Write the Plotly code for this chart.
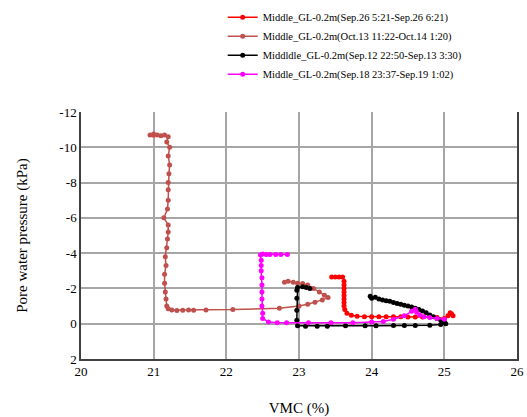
import plotly.graph_objects as go

# ---- data ----
names = [
    "Middle_GL-0.2m(Sep.26 5:21-Sep.26 6:21)",
    "Middle_GL-0.2m(Oct.13 11:22-Oct.14 1:20)",
    "Middldle_GL-0.2m(Sep.12 22:50-Sep.13 3:30)",
    "Middle_GL-0.2m(Sep.18 23:37-Sep.19 1:02)",
]

red_x = [23.45, 23.50, 23.55, 23.60, 23.62, 23.62, 23.62, 23.62, 23.62, 23.62, 23.62, 23.62,
         23.63, 23.66, 23.72, 23.80, 23.90, 24.00, 24.10, 24.20, 24.30, 24.40, 24.50, 24.60,
         24.70, 24.80, 24.90, 25.00, 25.05, 25.10, 25.08, 25.12]
red_y = [-2.65, -2.65, -2.65, -2.65, -2.40, -2.20, -2.00, -1.80, -1.60, -1.40, -1.20, -1.00,
         -0.80, -0.60, -0.48, -0.42, -0.40, -0.40, -0.40, -0.40, -0.40, -0.40, -0.38, -0.38,
         -0.38, -0.38, -0.35, -0.30, -0.45, -0.55, -0.62, -0.45]

brown_x = [22.80, 22.85, 22.92, 22.98, 23.05, 23.12, 23.20, 23.28, 23.35, 23.40, 23.32, 23.22,
           23.12, 23.00, 22.73, 22.09, 21.72, 21.55, 21.48, 21.40, 21.32, 21.25, 21.20, 21.18,
           21.17, 21.16, 21.15, 21.15, 21.17, 21.16, 21.18, 21.19, 21.20, 21.20, 21.14, 21.19,
           21.20, 21.20, 21.20, 21.21, 21.22, 21.20, 21.22, 21.18, 21.20, 21.15, 21.10, 21.05,
           21.00, 20.95, 21.00]
brown_y = [-2.35, -2.40, -2.35, -2.30, -2.28, -2.20, -2.00, -1.80, -1.62, -1.48, -1.35, -1.22,
           -1.10, -1.00, -0.88, -0.80, -0.78, -0.76, -0.78, -0.76, -0.75, -0.78, -0.85, -1.00,
           -1.40, -1.80, -2.30, -2.80, -3.30, -3.80, -4.30, -4.80, -5.20, -5.60, -6.00, -6.50,
           -7.00, -7.60, -8.00, -8.50, -9.00, -9.50, -10.00, -10.30, -10.60, -10.70, -10.65, -10.70,
           -10.75, -10.70, -10.68]

black_x = [23.98, 24.00, 24.05, 24.10, 24.15, 24.20, 24.25, 24.30, 24.35, 24.40, 24.45, 24.50,
           24.55, 24.60, 24.65, 24.70, 24.75, 24.80, 24.85, 24.90, 24.95, 25.00, 25.02, 24.95,
           24.80, 24.60, 24.45, 24.30, 24.06, 23.91, 23.64, 23.39, 23.25, 23.09, 22.98, 22.97,
           22.97, 22.97, 22.97, 22.98, 23.05, 23.10, 23.15]
black_y = [-1.55, -1.45, -1.50, -1.40, -1.35, -1.30, -1.28, -1.20, -1.15, -1.10, -1.05, -1.00,
           -0.95, -0.88, -0.80, -0.72, -0.62, -0.50, -0.40, -0.30, -0.20, -0.10, 0.00, 0.05,
           0.08, 0.10, 0.10, 0.10, 0.12, 0.12, 0.12, 0.15, 0.15, 0.15, 0.12, -0.20,
           -0.77, -1.45, -1.90, -2.05, -2.10, -2.05, -2.00]

mag_x = [22.84, 22.75, 22.68, 22.60, 22.55, 22.50, 22.47, 22.48, 22.48, 22.48, 22.49, 22.49,
         22.49, 22.49, 22.49, 22.50, 22.50, 22.58, 22.70, 22.83, 23.13, 23.44, 23.74, 24.00,
         24.16, 24.30, 24.45, 24.55, 24.60, 24.62, 24.66, 24.72, 24.80, 24.90, 25.00]
mag_y = [-3.93, -3.93, -3.93, -3.93, -3.93, -3.95, -3.90, -3.60, -3.30, -3.00, -2.60, -2.20,
         -1.80, -1.40, -1.00, -0.60, -0.30, -0.10, -0.05, -0.05, -0.05, -0.05, -0.05, -0.10,
         -0.12, -0.25, -0.45, -0.70, -0.82, -0.65, -0.50, -0.40, -0.35, -0.30, -0.25]

x_ticks = [20, 21, 22, 23, 24, 25, 26]
y_ticks = [-12, -10, -8, -6, -4, -2, 0, 2]

series = [
    (red_x, red_y, "#FF0000"),
    (brown_x, brown_y, "#C0504D"),
    (black_x, black_y, "#000000"),
    (mag_x, mag_y, "#FF00FF"),
]

FONT = "Liberation Serif, Times New Roman, serif"

fig = go.Figure()
for (xs, ys, col), nm in zip(series, names):
    fig.add_trace(go.Scatter(
        x=xs, y=ys, name=nm, mode="lines+markers",
        line=dict(color=col, width=1.5),
        marker=dict(color=col, size=5, symbol="circle"),
    ))

fig.update_layout(
    width=527, height=417,
    margin=dict(l=81, r=10, t=112, b=58, autoexpand=False),
    paper_bgcolor="white", plot_bgcolor="white",
    font=dict(family=FONT, size=13, color="black"),
    showlegend=True,
    legend=dict(
        x=0.325, y=1.442, xanchor="left", yanchor="top",
        font=dict(family=FONT, size=10.5, color="black"),
        bgcolor="rgba(0,0,0,0)", tracegroupgap=0, itemwidth=30,
    ),
    xaxis=dict(
        range=[20, 26], tickvals=x_ticks, ticktext=[str(v) for v in x_ticks],
        showgrid=True, gridcolor="#A6A6A6", gridwidth=1.5,
        showline=True, linecolor="#404040", linewidth=1.5, mirror=False,
        ticks="", zeroline=False,
        title=dict(text="VMC (%)", font=dict(family=FONT, size=15), standoff=25),
        tickfont=dict(family=FONT, size=13),
    ),
    yaxis=dict(
        range=[2, -12], tickvals=y_ticks, ticktext=[str(v) for v in y_ticks],
        showgrid=True, gridcolor="#A6A6A6", gridwidth=1.5,
        showline=True, linecolor="#404040", linewidth=1.5, mirror=True,
        ticks="", zeroline=False,
        title=dict(text="Pore water pressure (kPa)", font=dict(family=FONT, size=15), standoff=28),
        tickfont=dict(family=FONT, size=13),
    ),
)

fig.write_html("out.html")
